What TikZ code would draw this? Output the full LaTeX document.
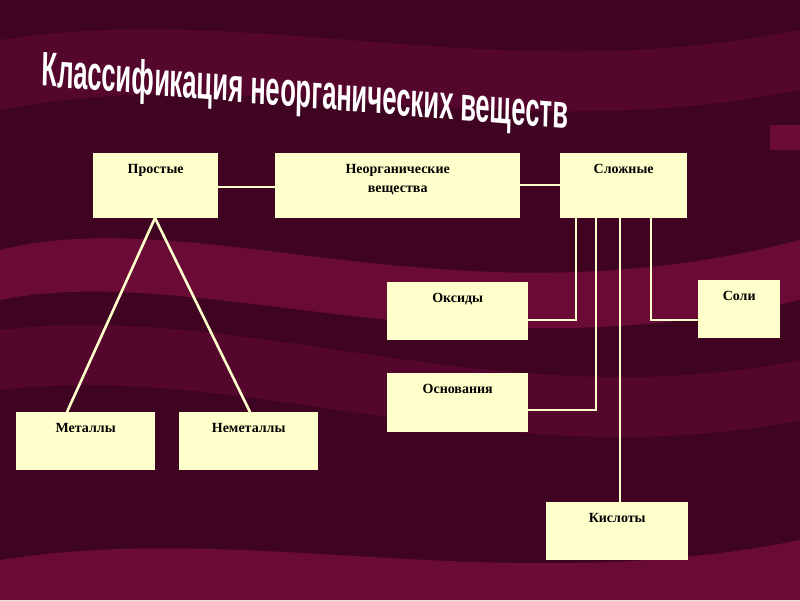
\documentclass[tikz,border=0pt]{standalone}
\usepackage{fontspec}
\setmainfont{Liberation Serif}
\newfontfamily\titlefont{Liberation Sans}
\begin{document}
\begin{tikzpicture}[x=1pt,y=-1pt,
  box/.style={draw=none,fill=boxc,inner sep=0pt},
  lbl/.style={font=\bfseries\fontsize{14}{19}\selectfont,align=center,anchor=north},
  ln/.style={draw=linec,line width=2.6pt}]
\definecolor{bg}{RGB}{62,4,34}
\definecolor{wave}{RGB}{105,10,55}
\definecolor{wave2}{RGB}{85,6,45}
\definecolor{boxc}{RGB}{255,255,204}
\definecolor{linec}{RGB}{255,255,204}
\fill[bg] (0,0) rectangle (800,600);
\useasboundingbox (0,0) rectangle (800,600);
\fill[wave2] (0,40) .. controls (250,0) and (500,90) .. (800,30) -- (800,90) .. controls (500,150) and (250,60) .. (0,110) -- cycle;
\fill[wave] (0,250) .. controls (200,200) and (450,330) .. (800,240) -- (800,300) .. controls (450,380) and (200,260) .. (0,300) -- cycle;
\fill[wave2] (0,330) .. controls (250,300) and (500,420) .. (800,360) -- (800,420) .. controls (500,480) and (250,360) .. (0,390) -- cycle;
\fill[wave] (0,560) .. controls (250,520) and (500,600) .. (800,540) -- (800,600) -- (0,600) -- cycle;
\fill[wave] (770,125) rectangle (800,150);
\node[font=\titlefont\bfseries\fontsize{42}{44}\selectfont,text=white,xscale=0.61,yscale=1.15,rotate=-2.5,inner sep=0pt] (title) at (305,95) {Классификация неорганических веществ};
\node[box,minimum width=125,minimum height=65,anchor=north west] (pr) at (93,153) {};
\node[lbl] at ([yshift=-8]pr.north) {Простые};
\node[box,minimum width=245,minimum height=65,anchor=north west] (ne) at (275,153) {};
\node[lbl] at ([yshift=-8]ne.north) {Неорганические\\вещества};
\node[box,minimum width=127,minimum height=65,anchor=north west] (sl) at (560,153) {};
\node[lbl] at ([yshift=-8]sl.north) {Сложные};
\node[box,minimum width=141,minimum height=58,anchor=north west] (ok) at (387,282) {};
\node[lbl] at ([yshift=-8]ok.north) {Оксиды};
\node[box,minimum width=141,minimum height=59,anchor=north west] (os) at (387,373) {};
\node[lbl] at ([yshift=-8]os.north) {Основания};
\node[box,minimum width=82,minimum height=58,anchor=north west] (so) at (698,280) {};
\node[lbl] at ([yshift=-8]so.north) {Соли};
\node[box,minimum width=139,minimum height=58,anchor=north west] (me) at (16,412) {};
\node[lbl] at ([yshift=-8]me.north) {Металлы};
\node[box,minimum width=139,minimum height=58,anchor=north west] (nm) at (179,412) {};
\node[lbl] at ([yshift=-8]nm.north) {Неметаллы};
\node[box,minimum width=142,minimum height=58,anchor=north west] (ki) at (546,502) {};
\node[lbl] at ([yshift=-8]ki.north) {Кислоты};
\coordinate (pb) at (155,218);
\draw[ln] (pr.east |- 0,187) -- (ne.west |- 0,187);
\draw[ln] (ne.east |- 0,185) -- (sl.west |- 0,185);
\draw[ln] (pb) -- (me.north -| 67,0);
\draw[ln] (pb) -- (nm.north -| 250,0);
\draw[ln] (sl.south -| 576,0) |- (ok.east |- 0,320);
\draw[ln] (sl.south -| 596,0) |- (os.east |- 0,410);
\draw[ln] (sl.south -| 620,0) -- (ki.north -| 620,0);
\draw[ln] (sl.south -| 651,0) |- (so.west |- 0,320);
\end{tikzpicture}
\end{document}
